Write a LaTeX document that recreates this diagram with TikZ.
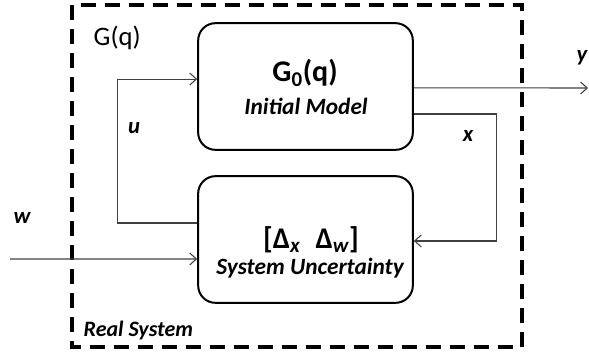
\documentclass[tikz,border=0pt]{standalone}
\usepackage{fontspec}
\setmainfont{Carlito}
\usetikzlibrary{arrows.meta}

\tikzset{
    block/.style={draw, line width=1.5pt, rounded corners=13pt,
        minimum width=161pt, minimum height=95pt},
    sig/.style={draw=black!75, line width=0.8pt,
        -{Straight Barb[length=5pt, width=9pt]}},
    lbl/.style={font=\fontsize{17}{20}\selectfont\bfseries\itshape},
    title/.style={font=\fontsize{22.5}{27}\selectfont\bfseries},
    sub/.style={font=\fontsize{17.5}{21}\selectfont\bfseries\itshape},
}

\begin{document}
\begin{tikzpicture}[x=0.75pt, y=-0.75pt]
    \useasboundingbox (0,0) rectangle (589,354);
    % dashed border of the real system
    \draw[line width=2.6pt, dash pattern=on 11pt off 7pt] (72,5) rectangle (522,347);
    \node[font=\fontsize{20}{24}\selectfont, anchor=west] (gq) at (89,38) {G(q)};
    \node[sub, font=\fontsize{16.5}{20}\selectfont\bfseries\itshape, anchor=west] (real) at (79,331) {Real System};

    % the two blocks
    \node[block] (model) at (305.5,86.5) {};
    \node[block] (uncert) at (305.5,239.5) {};
    \node[title] (gzero) at (305,73) {G\textsubscript{0}(q)};
    \node[sub] (initial) at (306,106) {Initial Model};
    \node[title] (delta) at (311,240) {[Δ\textsubscript{\itshape x}\enspace Δ\textsubscript{\itshape w}]};
    \node[sub] (sysunc) at (310,268) {System Uncertainty};

    % free ends
    \coordinate (win) at (10,259);
    \coordinate (yout) at (588,88);

    % signals
    \draw[sig] ([yshift=12.4pt]uncert.west) -- ++(-80,0) |- ([yshift=5.6pt]model.west);
    \draw[sig] ([yshift=-1pt]model.east) -- (yout);
    \draw[sig] ([yshift=-20.6pt]model.east) -- ++(83,0) |- ([yshift=-1.1pt]uncert.east);
    \draw[sig] (win) -- ([yshift=-14.6pt]uncert.west);

    % signal names
    \node[lbl] (ulbl) at (134,128) {u};
    \node[lbl] (xlbl) at (468,136) {x};
    \node[lbl] (wlbl) at (22,218) {w};
    \node[lbl] (ylbl) at (582,58) {y};
\end{tikzpicture}
\end{document}
